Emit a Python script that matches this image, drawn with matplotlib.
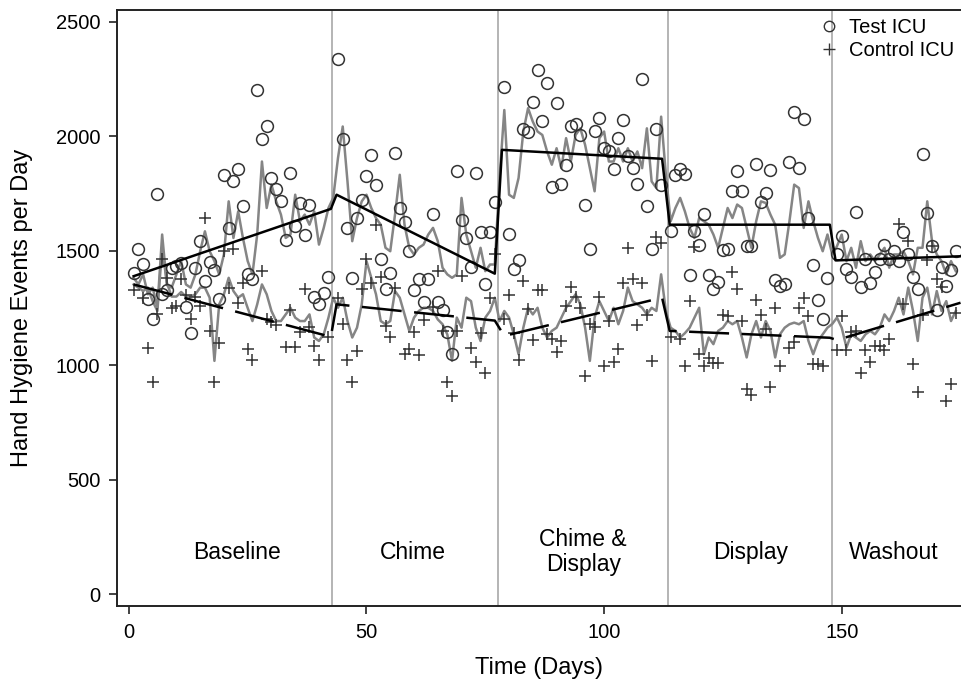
import numpy as np
import matplotlib
matplotlib.use("Agg")
import matplotlib.pyplot as plt
from matplotlib.lines import Line2D

plt.rcParams['font.family'] = ['Liberation Sans', 'DejaVu Sans']

# ---------------- data ----------------
test_days = [1,2,3,4,5,6,7,8,9,10,11,12,13,14,15,16,17,18,19,20,21,22,23,24,25,26,27,28,29,30,
             31,32,33,34,35,36,37,38,39,40,41,42,44,45,46,47,48,49,50,51,52,53,54,55,56,57,58,59,60,
             61,62,63,64,65,66,67,68,69,70,71,72,73,74,75,76,77,79,80,81,82,83,84,85,86,87,88,89,90,
             91,92,93,94,95,96,97,98,99,100,101,102,103,104,105,106,107,108,109,110,111,112,114,115,116,117,118,119,120,
             121,122,123,124,125,126,127,128,129,130,131,132,133,134,135,136,137,138,139,140,141,142,143,144,145,146,147,
             149,150,151,152,153,154,155,156,157,158,159,160,161,162,163,164,165,166,167,168,169,170,171,172,173,174]
test_vals = [1401,1506,1443,1288,1204,1746,1310,1327,1423,1433,1445,1254,1141,1423,1542,1368,1452,1418,1288,1829,
             1600,1806,1857,1694,1397,1375,2202,1989,2043,1818,1771,1719,1549,1842,1607,1709,1571,1700,1300,1266,
             1317,1385,2336,1989,1600,1382,1643,1723,1825,1919,1786,1465,1334,1404,1929,1687,1625,1498,1327,
             1375,1278,1378,1661,1276,1240,1147,1051,1850,1636,1556,1429,1839,1581,1353,1582,1712,2217,1575,1421,
             1458,2033,2021,2149,2290,2069,2234,1778,2145,1793,1876,2047,2054,2006,1699,1508,2024,2082,1951,1937,
             1857,1992,2072,1912,1861,1793,2250,1694,1508,2033,1789,1585,1832,1858,1835,1394,1585,1527,1661,1394,
             1334,1363,1503,1508,1763,1847,1760,1520,1520,1880,1712,1753,1854,1371,1346,1353,1887,2108,1861,2076,
             1643,1436,1284,1201,1382,1488,1564,1421,1386,1668,1343,1466,1360,1408,1466,1527,1466,1498,1455,1582,
             1484,1385,1334,1922,1665,1520,1241,1429,1346,1418,1498]

ctrl_days = [1,3,4,5,6,7,8,9,10,11,12,13,14,15,16,17,18,19,20,21,22,23,24,25,26,28,29,30,31,33,34,35,36,37,38,39,40,42,
             44,45,46,47,48,49,50,51,52,53,54,55,56,58,59,60,61,62,64,65,66,67,68,69,70,72,73,74,75,76,77,
             79,80,81,82,83,84,85,86,87,88,89,90,91,92,93,94,95,96,97,98,99,100,101,102,103,104,105,106,107,108,109,110,111,112,
             114,116,117,118,119,120,121,122,123,124,125,126,127,128,129,130,131,132,133,134,135,136,137,139,140,141,142,143,144,145,146,
             149,150,151,152,153,154,155,156,157,158,159,160,162,163,164,165,166,167,168,169,170,171,172,173,174]
ctrl_vals = [1327,1295,1077,925,1225,1465,1382,1249,1260,1378,1307,1204,1300,1260,1643,1150,928,1099,1501,1339,1506,1270,
             1360,1073,1022,1411,1201,1189,1175,1080,1240,1080,1143,1331,1165,1085,1022,1125,
             1295,1178,1022,928,1063,1331,1466,1360,1612,1385,1172,1125,1339,1051,1073,1143,1044,1198,1254,1411,1150,925,
             864,1150,1389,1077,1012,1140,964,1295,1488,
             1204,1307,1140,1022,1368,1247,1112,1327,1327,1135,1115,1058,1105,1260,1343,1300,1250,954,1180,1165,1300,997,
             1195,1012,1070,1360,1510,1378,1175,1360,1220,1019,1559,1535,
             1125,1114,997,1280,1517,1048,997,1033,1010,1010,1220,1215,1408,1333,1192,896,872,1285,1220,1160,903,1250,997,
             1077,1100,1250,1295,1215,1005,1005,997,
             1068,1215,1065,1143,1150,968,1068,1012,1085,1085,1068,1115,1619,1268,1542,1005,884,1220,1460,1520,1375,1340,
             845,920,1230]

fit_days = list(range(1, 175))
test_fit = [1382,1353,1397,1310,1339,1251,1571,1350,1339,1397,1455,1353,1339,1397,1498,1585,1498,1455,1397,1484,
            1716,1556,1672,1556,1455,1397,1571,1890,1687,1789,1716,1658,1556,1571,1745,1629,1658,1614,1672,1527,
            1600,1687,1731,1905,2043,1803,1542,1643,1716,1745,1687,1643,1614,1513,1498,1658,1832,1614,1513,1484,
            1513,1527,1571,1600,1542,1426,1397,1382,1397,1731,1571,1498,1426,1513,1411,1440,1440,1818,2115,1745,
            1731,1818,2021,2123,2064,2021,2006,1934,1876,1948,1861,1992,1890,2006,2035,1963,1861,1760,1992,2021,
            1890,1890,1948,1890,1948,1890,1934,1861,2035,1803,1774,2086,1832,1629,1687,1731,1672,1600,1556,1643,
            1629,1614,1571,1513,1600,1687,1643,1702,1687,1600,1513,1629,1716,1709,1658,1614,1469,1484,1629,1789,
            1774,1600,1716,1629,1556,1498,1571,1484,1520,1571,1455,1513,1426,1542,1455,1484,1455,1484,1513,1426,
            1484,1484,1498,1455,1397,1513,1513,1716,1542,1484,1455,1397,1455,1411]
ctrl_fit = [1353,1339,1324,1339,1280,1237,1513,1360,1300,1300,1320,1300,1300,1310,1339,1339,1295,1019,1266,1310,
            1382,1324,1295,1310,1250,1193,1266,1353,1310,1237,1193,1193,1222,1251,1208,1193,1193,1222,1121,1106,
            1135,1208,1295,1251,1295,1193,1121,1164,1266,1455,1382,1310,1193,1179,1193,1324,1295,1222,1150,1208,
            1237,1251,1251,1237,1200,1179,1135,1019,1208,1164,1295,1280,1164,1106,1208,1237,1295,1193,1237,1208,
            1135,1048,1164,1251,1222,1251,1164,1121,1150,1164,1208,1251,1280,1310,1266,1164,1019,1208,1280,1237,
            1193,1251,1179,1237,1339,1280,1266,1251,1222,1251,1237,1397,1237,1164,1150,1121,1140,1164,1208,1251,
            1048,1121,1092,1150,1164,1193,1179,1193,1121,1034,1135,1193,1121,1193,1150,1034,1135,1164,1179,1186,
            1179,1193,1106,1048,1106,1135,1164,1180,1208,1164,1077,1135,1121,1106,1135,1150,1135,1164,1222,1193,
            1237,1295,1222,1339,1237,1106,1295,1339,1222,1324,1237,1280,1193,1237]

test_trend_days = [1, 42.5, 43.7, 77, 78.5, 112.2, 113.8, 147.5, 148.7, 175]
test_trend_vals = [1389, 1683, 1745, 1400, 1941, 1902, 1614, 1614, 1458, 1476]
ctrl_trend_days = [1, 42.5, 43.7, 77, 79, 112.2, 113.8, 147.5, 149, 175]
ctrl_trend_vals = [1353, 1124, 1266, 1195, 1128, 1295, 1150, 1120, 1110, 1273]

phase_bounds = [42.8, 77.7, 113.4, 147.9]
phase_labels = ["Baseline", "Chime", "Chime &\nDisplay", "Display", "Washout"]
phase_label_x = [22.8, 59.8, 95.6, 130.8, 161.0]
phase_label_y = 183

# ---------------- figure ----------------
W, H = 961, 688
fig = plt.figure(figsize=(W / 100, H / 100), dpi=100)
ax = fig.add_axes([117 / W, 1 - 606 / H, (961 - 117) / W, (606 - 10) / H])

for b in phase_bounds:
    ax.axvline(b, color='#b4b4b4', lw=1.4, zorder=1)

ax.plot(fit_days, test_fit, color='#858585', lw=1.8, zorder=2)
ax.plot(fit_days, ctrl_fit, color='#858585', lw=1.8, zorder=2)

ax.plot(test_trend_days, test_trend_vals, color='black', lw=1.8, zorder=4)
ax.plot(ctrl_trend_days, ctrl_trend_vals, color='black', lw=1.8, dashes=(16, 5), zorder=4)

ax.plot(test_days, test_vals, linestyle='none', marker='o', ms=8.5, mfc='none',
        mec='#333333', mew=1.1, zorder=3)
ax.plot(ctrl_days, ctrl_vals, linestyle='none', marker='+', ms=9, mec='#333333',
        mew=1.1, zorder=3)

for x, lab in zip(phase_label_x, phase_labels):
    ax.text(x, phase_label_y, lab, ha='center', va='center', fontsize=16.5, linespacing=1.1)

ax.set_xlim(-2.5, 175.1)
ax.set_ylim(-52, 2552)
ax.set_xticks([0, 50, 100, 150])
ax.set_yticks([0, 500, 1000, 1500, 2000, 2500])
ax.tick_params(direction='out', length=6, width=1.2, labelsize=14.5, pad=6, color='#222222')
for s in ['left', 'bottom', 'top']:
    ax.spines[s].set_linewidth(1.4)
    ax.spines[s].set_color('#222222')
ax.spines['right'].set_visible(False)

ax.set_xlabel("Time (Days)", fontsize=17)
ax.set_ylabel("Hand Hygiene Events per Day", fontsize=17)
ax.xaxis.set_label_coords(0.5, -0.085)
ax.yaxis.set_label_coords(-0.1, 0.5)

handles = [Line2D([], [], linestyle='none', marker='o', ms=7.5, mfc='none', mec='#333333', mew=1.0),
           Line2D([], [], linestyle='none', marker='+', ms=8, mec='#333333', mew=1.0)]
ax.legend(handles, ["Test ICU", "Control ICU"], loc='upper right', bbox_to_anchor=(1.008, 1.01),
          frameon=False, fontsize=14.5, handletextpad=0.45, labelspacing=0.2, handlelength=1.0,
          borderaxespad=0.3)

fig.savefig("out.png", dpi=100)
